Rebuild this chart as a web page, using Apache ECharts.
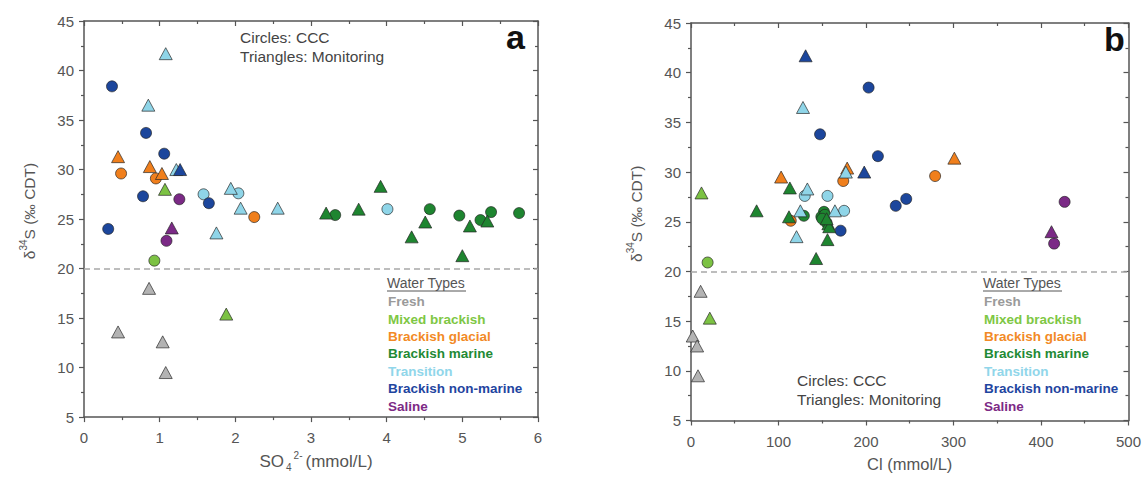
<!DOCTYPE html>
<html>
<head>
<meta charset="utf-8">
<script src="https://cdn.jsdelivr.net/npm/echarts@6/dist/echarts.min.js"></script>
<style>
  html, body { margin: 0; padding: 0; background: #fff; }
  #chart { width: 1144px; height: 477px; }
</style>
</head>
<body>
<div id="chart"></div>
<script>
// Water type categories, in legend order
const waterTypes = ['Fresh', 'Mixed brackish', 'Brackish glacial', 'Brackish marine',
                    'Transition', 'Brackish non-marine', 'Saline'];

// Panel a: δ34S against sulphate (mmol/L) — [SO4, δ34S, water type]
const so4Circles = [
  [0.93, 20.8, 'Mixed brackish'],
  [0.49, 29.6, 'Brackish glacial'], [0.95, 29.1, 'Brackish glacial'], [2.25, 25.2, 'Brackish glacial'],
  [3.32, 25.4, 'Brackish marine'], [4.57, 26.0, 'Brackish marine'], [4.96, 25.35, 'Brackish marine'],
  [5.24, 24.9, 'Brackish marine'], [5.38, 25.7, 'Brackish marine'], [5.75, 25.6, 'Brackish marine'],
  [1.58, 27.5, 'Transition'], [2.04, 27.6, 'Transition'], [4.01, 26.0, 'Transition'],
  [0.37, 38.4, 'Brackish non-marine'], [0.82, 33.7, 'Brackish non-marine'], [1.06, 31.6, 'Brackish non-marine'],
  [0.78, 27.3, 'Brackish non-marine'], [1.65, 26.6, 'Brackish non-marine'], [0.32, 24.0, 'Brackish non-marine'],
  [1.26, 27.0, 'Saline'], [1.09, 22.8, 'Saline']
];
const so4Triangles = [
  [0.45, 13.6, 'Fresh'], [0.86, 18.0, 'Fresh'], [1.04, 12.6, 'Fresh'], [1.08, 9.5, 'Fresh'],
  [1.07, 28.0, 'Mixed brackish'], [1.88, 15.4, 'Mixed brackish'],
  [0.45, 31.3, 'Brackish glacial'], [0.87, 30.3, 'Brackish glacial'], [1.03, 29.6, 'Brackish glacial'],
  [3.20, 25.6, 'Brackish marine'], [3.63, 26.0, 'Brackish marine'], [3.92, 28.3, 'Brackish marine'],
  [4.51, 24.7, 'Brackish marine'], [4.33, 23.2, 'Brackish marine'], [5.00, 21.3, 'Brackish marine'],
  [5.10, 24.3, 'Brackish marine'], [5.33, 24.8, 'Brackish marine'],
  [1.08, 41.7, 'Transition'], [0.85, 36.5, 'Transition'], [1.22, 30.0, 'Transition'],
  [1.94, 28.1, 'Transition'], [2.07, 26.1, 'Transition'], [2.56, 26.1, 'Transition'], [1.75, 23.6, 'Transition'],
  [1.27, 30.0, 'Brackish non-marine'],
  [1.16, 24.1, 'Saline']
];

// Panel b: δ34S against chloride (mmol/L) — [Cl, δ34S, water type]
const clCircles = [
  [19, 20.9, 'Mixed brackish'],
  [114, 25.1, 'Brackish glacial'], [174, 29.1, 'Brackish glacial'], [279, 29.6, 'Brackish glacial'],
  [129, 25.6, 'Brackish marine'], [152, 26.0, 'Brackish marine'], [149, 25.5, 'Brackish marine'],
  [155, 24.9, 'Brackish marine'], [153, 25.7, 'Brackish marine'], [150, 25.3, 'Brackish marine'],
  [130, 27.6, 'Transition'], [156, 27.6, 'Transition'], [175, 26.1, 'Transition'],
  [203, 38.5, 'Brackish non-marine'], [147.5, 33.8, 'Brackish non-marine'], [213.6, 31.6, 'Brackish non-marine'],
  [234, 26.6, 'Brackish non-marine'], [246, 27.3, 'Brackish non-marine'], [171, 24.1, 'Brackish non-marine'],
  [427, 27.0, 'Saline'], [415, 22.8, 'Saline']
];
const clTriangles = [
  [2, 13.5, 'Fresh'], [7, 12.5, 'Fresh'], [11, 18.0, 'Fresh'], [8, 9.5, 'Fresh'],
  [12, 27.9, 'Mixed brackish'], [21.5, 15.3, 'Mixed brackish'],
  [103, 29.5, 'Brackish glacial'], [178.5, 30.4, 'Brackish glacial'], [301, 31.4, 'Brackish glacial'],
  [75, 26.1, 'Brackish marine'], [113, 28.4, 'Brackish marine'], [112, 25.5, 'Brackish marine'],
  [157, 24.8, 'Brackish marine'], [156, 23.2, 'Brackish marine'], [143, 21.3, 'Brackish marine'],
  [158, 24.5, 'Brackish marine'], [155, 25.3, 'Brackish marine'],
  [128, 36.5, 'Transition'], [133, 28.3, 'Transition'], [125, 26.1, 'Transition'],
  [164.5, 26.1, 'Transition'], [120.6, 23.5, 'Transition'], [177, 30.0, 'Transition'],
  [131, 41.7, 'Brackish non-marine'], [198, 30.0, 'Brackish non-marine'],
  [412, 24.0, 'Saline']
];

// Axis ranges and tick steps
const yRange = { min: 5, max: 45, step: 5 };
const so4Range = { min: 0, max: 6, step: 1 };
const clRange = { min: 0, max: 500, step: 100 };
const threshold = 20;

// Styling
const fillColors = {
  'Fresh': '#b3b3b3',
  'Mixed brackish': '#7cc243',
  'Brackish glacial': '#f07f1c',
  'Brackish marine': '#1e8530',
  'Transition': '#8fd5e8',
  'Brackish non-marine': '#1c469c',
  'Saline': '#7b2a86'
};
const textColors = {
  'Fresh': '#9a9a9a',
  'Mixed brackish': '#7ec744',
  'Brackish glacial': '#f28a26',
  'Brackish marine': '#1f8a35',
  'Transition': '#90d6ea',
  'Brackish non-marine': '#1f45a0',
  'Saline': '#7d2a86'
};
const axisColor = '#555';
const font = '"Liberation Sans", Arial, sans-serif';

function seriesFor(points, shape, xi, yi) {
  return waterTypes
    .map(t => ({ t, d: points.filter(p => p[2] === t).map(p => [p[0], p[1]]) }))
    .filter(o => o.d.length)
    .map(o => ({
      name: o.t,
      type: 'scatter',
      xAxisIndex: xi,
      yAxisIndex: yi,
      symbol: shape,
      symbolSize: shape === 'triangle' ? [13, 12] : 11,
      itemStyle: { color: fillColors[o.t], borderColor: 'rgba(35,35,35,0.85)', borderWidth: 0.8, opacity: 1 },
      emphasis: { disabled: true },
      data: o.d
    }));
}

function thresholdLine(xi, yi) {
  return {
    name: 'threshold',
    type: 'scatter',
    xAxisIndex: xi,
    yAxisIndex: yi,
    data: [],
    markLine: {
      silent: true,
      symbol: 'none',
      label: { show: false },
      lineStyle: { color: '#a8a8a8', type: [6, 4], width: 1.5 },
      data: [{ yAxis: threshold }]
    }
  };
}

function xAxes(range, gridIndex, name, nameSize, namePad) {
  const base = {
    gridIndex, min: range.min, max: range.max, interval: range.step,
    splitLine: { show: false },
    axisLine: { show: true, onZero: false, lineStyle: { color: axisColor, width: 1.5 } }
  };
  return [
    Object.assign({}, base, {
      position: 'bottom',
      name,
      nameLocation: 'middle',
      nameGap: 32,
      nameTextStyle: {
        color: axisColor, fontFamily: font, padding: namePad,
        rich: {
          n: { fontSize: nameSize, lineHeight: 22, color: axisColor, fontFamily: font },
          sub: { fontSize: 10, lineHeight: 8, verticalAlign: 'bottom', padding: [0, 0, 0, 2], color: axisColor, fontFamily: font },
          sup: { fontSize: 10, lineHeight: 10, verticalAlign: 'top', padding: [0, 3, 0, 2], color: axisColor, fontFamily: font }
        }
      },
      axisTick: { show: true, inside: false, length: 5, lineStyle: { color: axisColor, width: 1.2 } },
      minorTick: { show: true, splitNumber: 2, length: 3, lineStyle: { color: axisColor, width: 1.2 } },
      axisLabel: { color: axisColor, fontSize: 15, fontFamily: font, margin: 13 }
    }),
    Object.assign({}, base, {
      position: 'top',
      axisTick: { show: true, inside: true, length: 5, lineStyle: { color: axisColor, width: 1.2 } },
      minorTick: { show: true, splitNumber: 2, length: 3, lineStyle: { color: axisColor, width: 1.2 } },
      axisLabel: { show: false }
    })
  ];
}

function yAxes(gridIndex) {
  const base = {
    gridIndex, min: yRange.min, max: yRange.max, interval: yRange.step,
    splitLine: { show: false },
    axisLine: { show: true, onZero: false, lineStyle: { color: axisColor, width: 1.5 } }
  };
  return [
    Object.assign({}, base, {
      position: 'left',
      name: '{n|δ}{sup|34}{n|S (‰ CDT)}',
      nameLocation: 'middle',
      nameRotate: 90,
      nameGap: 44,
      nameTextStyle: {
        color: axisColor, fontFamily: font, padding: [0, 0, 0, 16],
        rich: {
          n: { fontSize: 15.5, lineHeight: 22, color: axisColor, fontFamily: font },
          sup: { fontSize: 10, lineHeight: 10, verticalAlign: 'top', color: axisColor, fontFamily: font }
        }
      },
      axisTick: { show: true, inside: false, length: 5, lineStyle: { color: axisColor, width: 1.2 } },
      minorTick: { show: true, splitNumber: 2, length: 3, lineStyle: { color: axisColor, width: 1.2 } },
      axisLabel: { color: axisColor, fontSize: 15, fontFamily: font, margin: 10 }
    }),
    Object.assign({}, base, {
      position: 'right',
      axisTick: { show: true, inside: true, length: 5, lineStyle: { color: axisColor, width: 1.2 } },
      minorTick: { show: true, splitNumber: 2, length: 3, lineStyle: { color: axisColor, width: 1.2 } },
      axisLabel: { show: false }
    })
  ];
}

function legendAt(left) {
  return {
    orient: 'vertical',
    left, top: 288,
    itemWidth: 0, itemHeight: 0, itemGap: 0,
    selectedMode: false,
    icon: 'rect',
    textStyle: { fontFamily: font, fontWeight: 'bold', fontSize: 13.5, lineHeight: 17.4 },
    data: waterTypes.map(t => ({ name: t, textStyle: { color: textColors[t] } }))
  };
}

function headerAt(x) {
  return [
    { type: 'text', left: x, top: 276, style: { text: 'Water Types', fill: '#555', font: '14px ' + font } },
    { type: 'line', shape: { x1: x, y1: 291, x2: x + 79, y2: 291 }, style: { stroke: '#555', lineWidth: 1 } }
  ];
}

function noteAt(x, y) {
  return [
    { type: 'text', left: x, top: y, style: { text: 'Circles: CCC', fill: '#444', font: '15.5px ' + font } },
    { type: 'text', left: x, top: y + 19, style: { text: 'Triangles: Monitoring', fill: '#444', font: '15.5px ' + font } }
  ];
}

const chart = echarts.init(document.getElementById('chart'), null, { renderer: 'svg' });
chart.setOption({
  animation: false,
  backgroundColor: '#fff',
  grid: [
    { left: 84, top: 21, width: 454, height: 401 },
    { left: 691, top: 23, width: 441, height: 399 }
  ],
  xAxis: [
    ...xAxes(so4Range, 0, '{n|SO}{sub|4}{sup|2-}{n|(mmol/L)}', 17, [0, 0, 0, 10]),
    ...xAxes(clRange, 1, '{n|Cl (mmol/L)}', 16.5, [0, 0, 0, 0])
  ],
  yAxis: [...yAxes(0), ...yAxes(1)],
  legend: [legendAt(377), legendAt(973)],
  graphic: [
    ...headerAt(387), ...headerAt(983),
    ...noteAt(240, 29), ...noteAt(797, 372),
    { type: 'text', left: 506, top: 20, style: { text: 'a', fill: '#111', font: 'bold 34px ' + font } },
    { type: 'text', left: 1104, top: 22, style: { text: 'b', fill: '#111', font: 'bold 34px ' + font } }
  ],
  series: [
    thresholdLine(0, 0),
    ...seriesFor(so4Circles, 'circle', 0, 0),
    ...seriesFor(so4Triangles, 'triangle', 0, 0),
    thresholdLine(2, 2),
    ...seriesFor(clCircles, 'circle', 2, 2),
    ...seriesFor(clTriangles, 'triangle', 2, 2)
  ]
});
</script>
</body>
</html>
